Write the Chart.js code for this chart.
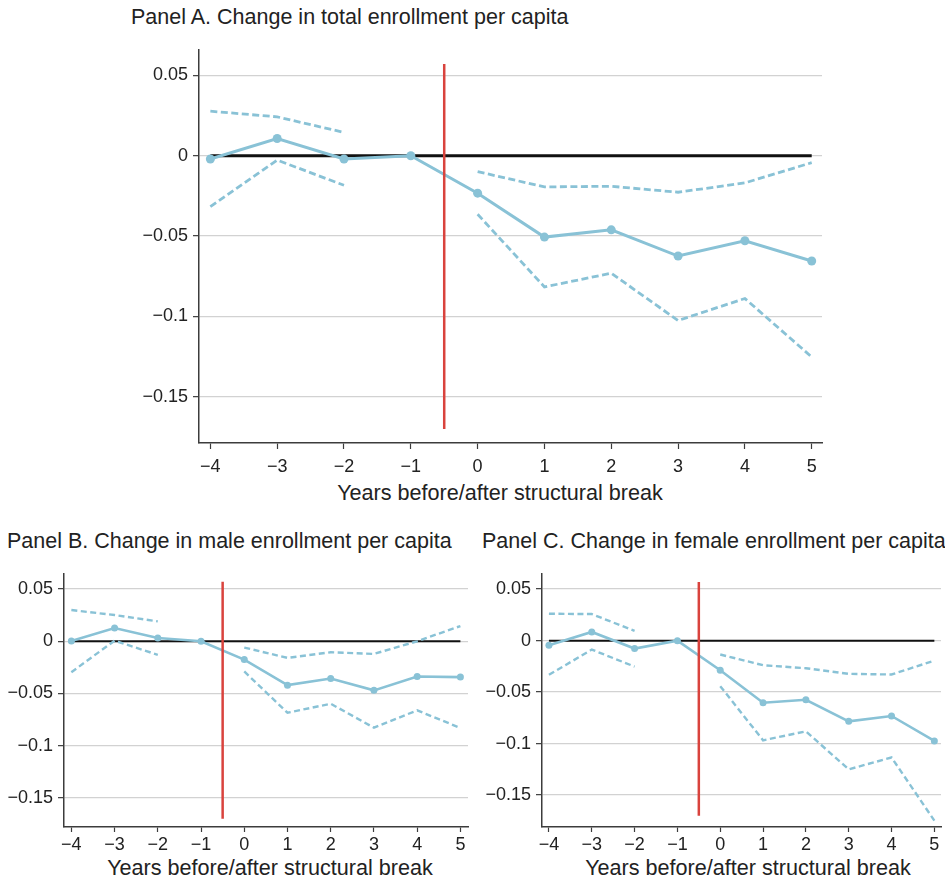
<!DOCTYPE html>
<html>
<head>
<meta charset="utf-8">
<script src="https://cdn.jsdelivr.net/npm/chart.js@4.4.1/dist/chart.umd.min.js"></script>
<style>
  html, body { margin: 0; padding: 0; background: #ffffff; }
  body { width: 945px; height: 881px; position: relative; overflow: hidden; font-family: "Liberation Sans", Arial, sans-serif; color: #222; }
  canvas { position: absolute; }
  .ttl { position: absolute; font-size: 21.5px; line-height: 24px; white-space: nowrap; color: #222; }
  .axt { position: absolute; font-size: 21.6px; line-height: 24px; white-space: nowrap; color: #222; transform: translateX(-50%); }
</style>
</head>
<body>
<div class="ttl" style="left:131px; top:5px;">Panel A. Change in total enrollment per capita</div>
<div class="ttl" style="left:7px; top:529px;">Panel B. Change in male enrollment per capita</div>
<div class="ttl" style="left:482px; top:529px;">Panel C. Change in female enrollment per capita</div>
<div class="axt" style="left:500px; top:481px;">Years before/after structural break</div>
<div class="axt" style="left:270px; top:856px;">Years before/after structural break</div>
<div class="axt" style="left:748px; top:856px;">Years before/after structural break</div>

<canvas id="cA" width="740" height="476" style="left:100px; top:34px;"></canvas>
<canvas id="cB" width="475" height="312" style="left:0px; top:558px;"></canvas>
<canvas id="cC" width="470" height="312" style="left:475px; top:558px;"></canvas>

<script>
// ---- Data ----
const years = [-4, -3, -2, -1, 0, 1, 2, 3, 4, 5];
const xTickLabels = ["\u22124", "\u22123", "\u22122", "\u22121", "0", "1", "2", "3", "4", "5"];
const yTickValues = [-0.15, -0.1, -0.05, 0, 0.05];
const yTickLabels = ["\u22120.15", "\u22120.1", "\u22120.05", "0", "0.05"];
const breakX = -0.5;
const breakRange = [-0.17, 0.057];

// Panel A: total enrollment
const totalEst   = [-0.002, 0.0107, -0.002, 0, -0.0233, -0.0506, -0.0461, -0.0624, -0.0529, -0.0655];
const totalUpper = [0.0277, 0.0242, 0.0145, null, -0.0099, -0.0194, -0.0190, -0.0227, -0.0169, -0.0043];
const totalLower = [-0.0316, -0.0027, -0.0184, null, -0.0364, -0.0816, -0.0731, -0.1025, -0.0888, -0.1252];

// Panel B: male enrollment
const maleEst   = [0.0003, 0.0127, 0.0032, 0, -0.0175, -0.0420, -0.0356, -0.0470, -0.0337, -0.0343];
const maleUpper = [0.0299, 0.0251, 0.0191, null, -0.0060, -0.0159, -0.0105, -0.0121, 0.0000, 0.0146];
const maleLower = [-0.0296, 0.0006, -0.0130, null, -0.0289, -0.0684, -0.0598, -0.0827, -0.0661, -0.0830];

// Panel C: female enrollment
const femaleEst   = [-0.0045, 0.0084, -0.0077, 0, -0.0287, -0.0603, -0.0574, -0.0784, -0.0732, -0.0974];
const femaleUpper = [0.0261, 0.0258, 0.0094, null, -0.0135, -0.0239, -0.0268, -0.0323, -0.0329, -0.0194];
const femaleLower = [-0.0332, -0.0087, -0.0252, null, -0.0442, -0.0968, -0.0881, -0.1250, -0.1135, -0.1748];

// ---- Styling ----
const BLUE = "#89c2d6";
const RED = "#d9433d";
const GRID = "#d2d2d2";
const AXIS = "#3c3c3c";
const FONT = "'Liberation Sans', Arial, sans-serif";

function pairs(vals) { return years.map((x, i) => ({ x: x, y: vals[i] })); }

function makeChart(id, est, up, lo, cfg) {
  const datasets = [
    { // structural break
      data: [{ x: breakX, y: breakRange[0] }, { x: breakX, y: breakRange[1] }],
      borderColor: RED, borderWidth: cfg.redW, pointRadius: 0, order: 0
    },
    { // point estimates
      data: pairs(est),
      borderColor: BLUE, backgroundColor: BLUE, borderWidth: cfg.lineW,
      pointRadius: cfg.ptR, pointBorderWidth: 0, pointBackgroundColor: BLUE, order: 1
    },
    { // upper CI
      data: pairs(up), borderColor: BLUE, borderWidth: cfg.dashW, borderDash: cfg.dash,
      pointRadius: 0, spanGaps: false, order: 2
    },
    { // lower CI
      data: pairs(lo), borderColor: BLUE, borderWidth: cfg.dashW, borderDash: cfg.dash,
      pointRadius: 0, spanGaps: false, order: 2
    },
    { // zero reference line
      data: [{ x: years[0], y: 0 }, { x: years[years.length - 1], y: 0 }],
      borderColor: "#111", borderWidth: cfg.zeroW, pointRadius: 0, order: 3
    }
  ];
  return new Chart(document.getElementById(id), {
    type: "line",
    data: { datasets: datasets },
    options: {
      responsive: false, animation: false, devicePixelRatio: 1,
      layout: { padding: { top: cfg.padTop, right: cfg.padRight, left: 0, bottom: 0 } },
      plugins: { legend: { display: false }, tooltip: { enabled: false } },
      elements: { line: { tension: 0 } },
      scales: {
        x: {
          type: "linear", min: cfg.xmin, max: cfg.xmax,
          afterBuildTicks: s => { s.ticks = years.map(v => ({ value: v })); },
          afterFit: s => { s.height = cfg.xAxisH; },
          grid: { drawOnChartArea: false, drawTicks: true, tickLength: cfg.xTickLen, tickColor: AXIS, tickWidth: 1.2 },
          border: { display: true, color: AXIS, width: 1.5 },
          ticks: {
            padding: cfg.xPad, color: "#222", maxRotation: 0, autoSkip: false,
            font: { family: FONT, size: cfg.tickSize },
            callback: (v) => { const i = years.indexOf(v); return i >= 0 ? xTickLabels[i] : ""; }
          }
        },
        y: {
          type: "linear", min: cfg.ymin, max: cfg.ymax,
          afterBuildTicks: s => { s.ticks = yTickValues.map(v => ({ value: v })); },
          afterFit: s => { s.width = cfg.yAxisW; },
          grid: { color: GRID, lineWidth: 1.3, drawTicks: true, tickLength: 6, tickColor: AXIS, tickWidth: 1.2 },
          border: { display: true, color: AXIS, width: 1.5 },
          ticks: {
            padding: 5, color: "#222",
            font: { family: FONT, size: cfg.tickSize },
            callback: (v) => { const i = yTickValues.findIndex(t => Math.abs(t - v) < 1e-9); return i >= 0 ? yTickLabels[i] : ""; }
          }
        }
      }
    }
  });
}

makeChart("cA", totalEst, totalUpper, totalLower, {
  xmin: -4.17, xmax: 5.154, ymin: -0.1787, ymax: 0.0659,
  padTop: 15, padRight: 18, yAxisW: 99, xAxisH: 67, xPad: 7, xTickLen: 6, tickSize: 18,
  redW: 2.5, lineW: 3, ptR: 4.5, dashW: 2.8, dash: [7, 3.5], zeroW: 3
});
makeChart("cB", maleEst, maleUpper, maleLower, {
  xmin: -4.17, xmax: 5.176, ymin: -0.1778, ymax: 0.0646,
  padTop: 15, padRight: 7, yAxisW: 64, xAxisH: 43, xPad: 2, xTickLen: 5, tickSize: 18,
  redW: 2.5, lineW: 2.6, ptR: 3.5, dashW: 2.4, dash: [6, 3.5], zeroW: 2
});
makeChart("cC", femaleEst, femaleUpper, femaleLower, {
  xmin: -4.162, xmax: 5.155, ymin: -0.181, ymax: 0.0649,
  padTop: 15, padRight: 0, yAxisW: 67, xAxisH: 43, xPad: 2, xTickLen: 5, tickSize: 18,
  redW: 2.5, lineW: 2.6, ptR: 3.5, dashW: 2.4, dash: [6, 3.5], zeroW: 2
});
</script>
</body>
</html>
